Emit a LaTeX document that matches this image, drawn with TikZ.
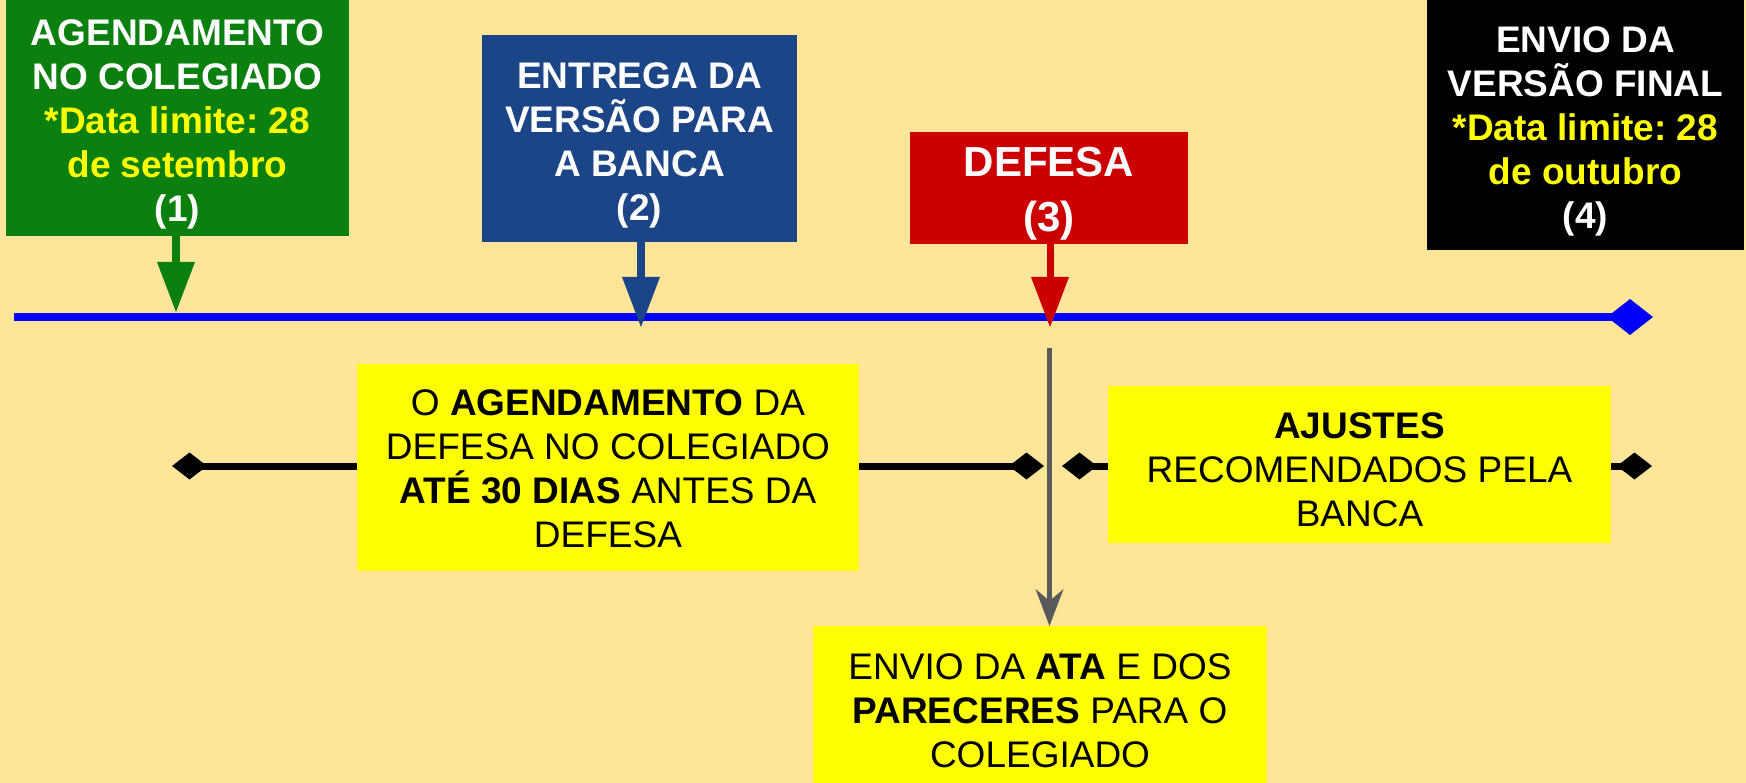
\documentclass[tikz,border=0pt]{standalone}
\usepackage{fontspec}
\setmainfont{Liberation Sans}
\frenchspacing
\usetikzlibrary{arrows.meta}
\definecolor{bg}{HTML}{FFE599}
\definecolor{gbox}{RGB}{11,128,15}
\definecolor{bbox}{HTML}{1C4587}
\definecolor{rbox}{HTML}{CC0000}
\definecolor{ylw}{HTML}{FFFF00}
\definecolor{tl}{HTML}{0000FF}
\definecolor{gry}{HTML}{595959}
\begin{document}
\begin{tikzpicture}[x=1pt,y=-1pt,
  box/.style={rectangle, inner sep=0pt, outer sep=0pt},
  txt/.style={inner sep=0pt, align=center, font=\fontsize{37}{44}\selectfont\frenchspacing},
  datetxt/.style={txt, text=white, font=\fontsize{37}{44}\selectfont\bfseries\frenchspacing},
  notebox/.style={box, fill=ylw},
  pointer/.style={line width=8pt, -{Triangle[length=50pt,width=38pt,line width=0pt]}},
  bar/.style={line width=7pt, black, -{Diamond[length=35pt,width=27pt,line width=0pt]}},
]
\useasboundingbox (0,0) rectangle (1746,783);
\fill[bg] (0,0) rectangle (1746,783);

% timeline
\coordinate (tlstart) at (14,317);
\coordinate (tlend) at (1653,317);
\draw[tl, line width=8pt, -{Diamond[length=46pt,width=36pt,line width=0pt]}] (tlstart) -- (tlend);

% date boxes
\node[box, fill=gbox, minimum width=343pt, minimum height=236pt] (g) at (177.5,118) {};
\node[datetxt] (gt) at ([yshift=-6.5pt]g.center)
  {AGENDAMENTO\\NO COLEGIADO\\\textcolor{ylw}{*Data limite: 28}\\\textcolor{ylw}{de setembro}\\(1)};
\node[box, fill=bbox, minimum width=315pt, minimum height=207pt] (b) at (639.5,138.5) {};
\node[datetxt] (bt) at ([yshift=-6.5pt]b.center)
  {ENTREGA DA\\VERSÃO PARA\\A BANCA\\(2)};
\node[box, fill=rbox, minimum width=278pt, minimum height=112pt] (r) at (1049,188) {};
\node[datetxt, font=\fontsize{42}{55}\selectfont\bfseries] (rt) at ([yshift=-5.5pt]r.center)
  {DEFESA\\(3)};
\node[box, fill=black, minimum width=317pt, minimum height=250pt] (k) at (1585.5,125) {};
\node[datetxt] (kt) at ([yshift=-6.5pt]k.center)
  {ENVIO DA\\VERSÃO FINAL\\\textcolor{ylw}{*Data limite: 28}\\\textcolor{ylw}{de outubro}\\(4)};

% pointers to timeline
\coordinate (p1) at (176,312);
\coordinate (p2) at (641,327);
\coordinate (p3) at (1050,327);
\draw[pointer, gbox] (g.south -| p1) -- (p1);
\draw[pointer, bbox] (b.south -| p2) -- (p2);
\draw[pointer, rbox, line width=7pt] (r.south -| p3) -- (p3);

% note boxes
\node[notebox, minimum width=502pt, minimum height=207pt] (y1) at (608,467.5) {};
\node[txt] (y1t) at ([yshift=-1.5pt]y1.center)
  {O \textbf{AGENDAMENTO} DA\\DEFESA NO COLEGIADO\\\textbf{ATÉ 30 DIAS} ANTES DA\\DEFESA};
\node[notebox, minimum width=503pt, minimum height=157pt] (y2) at (1359.5,464.5) {};
\node[txt] (y2t) at ([yshift=-5pt]y2.center)
  {\textbf{AJUSTES}\\RECOMENDADOS PELA\\BANCA};
\node[notebox, minimum width=454pt, minimum height=157pt] (y3) at (1040,704.5) {};
\node[txt] (y3t) at ([yshift=-6pt]y3.center)
  {ENVIO DA \textbf{ATA} E DOS\\\textbf{PARECERES} PARA O\\COLEGIADO};

% interval bars
\coordinate (d1) at (172,466);
\coordinate (d2) at (1044,466);
\coordinate (d3) at (1062,466);
\coordinate (d4) at (1652,466);
\draw[bar] (y1.west |- d1) -- (d1);
\draw[bar] (y1.east |- d2) -- (d2);
\draw[bar] (y2.west |- d3) -- (d3);
\draw[bar] (y2.east |- d4) -- (d4);

% gray arrow
\coordinate (gtop) at (1049.5,348);
\draw[gry, line width=5pt, -{Stealth[length=37pt,width=28pt,inset=12pt,line width=0pt]}]
  (gtop) -- (y3.north -| gtop);
\end{tikzpicture}
\end{document}
